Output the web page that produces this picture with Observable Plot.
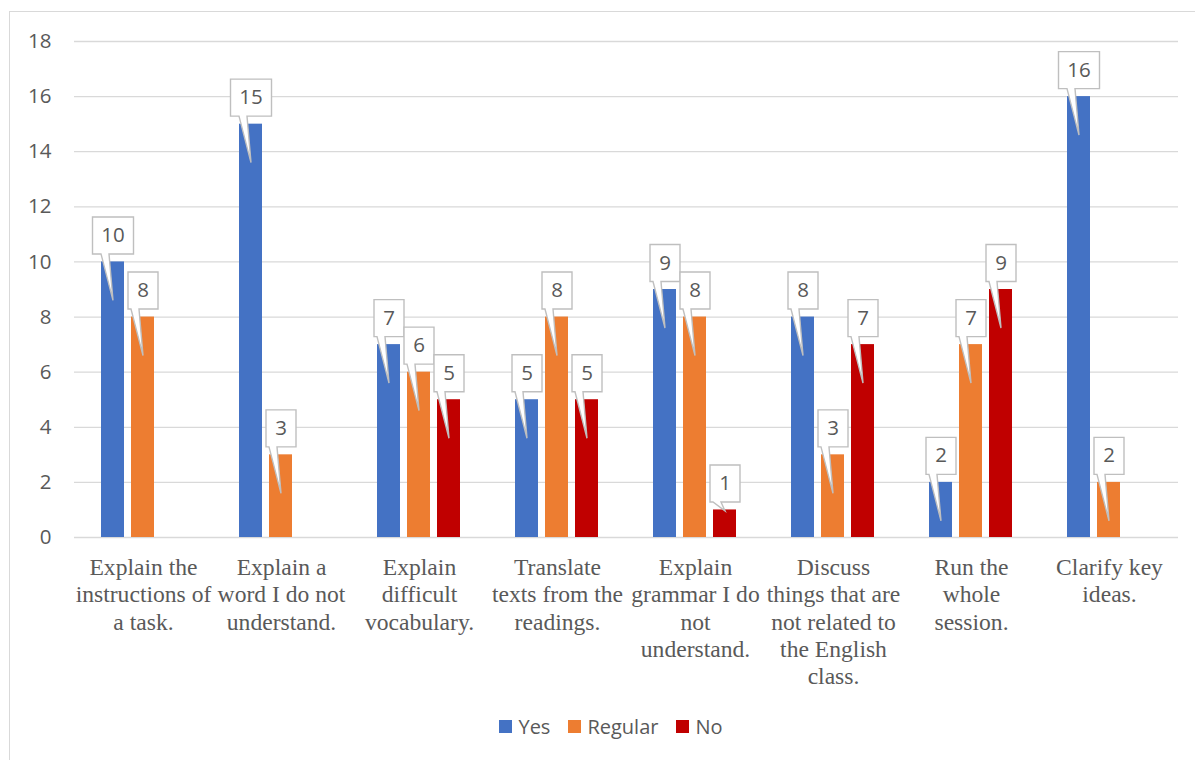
<!DOCTYPE html>
<html>
<head>
<meta charset="utf-8">
<script src="https://cdn.jsdelivr.net/npm/d3@7"></script>
<script src="https://cdn.jsdelivr.net/npm/@observablehq/plot@0.6"></script>
<style>
  html, body { margin: 0; padding: 0; background: #fff; overflow: hidden; }
  #wrap { position: relative; width: 1195px; height: 760px; overflow: hidden; }
  #frame { position: absolute; left: 9px; top: 11px; width: 1400px; height: 1000px;
           border: 1.5px solid #D9D9D9; box-sizing: border-box; }
  #chart { position: absolute; left: 0; top: 0; }
  #legend { position: absolute; left: 0; top: 713px; width: 1222px;
            display: flex; justify-content: center; align-items: center;
            font-family: "Open Sans", sans-serif; font-size: 20px; color: #595959; }
  #legend .item { display: flex; align-items: center; margin: 0 9px; }
  #legend .sw { width: 13px; height: 13px; margin-right: 6px; }
</style>
</head>
<body>
<div id="wrap">
  <div id="frame"></div>
  <div id="chart"></div>
  <div id="legend"></div>
</div>
<script>
// Categories (full wording) and their wrapped axis labels
const categories = [
  "Explain the instructions of a task.",
  "Explain a word I do not understand.",
  "Explain difficult vocabulary.",
  "Translate texts from the readings.",
  "Explain grammar I do not understand.",
  "Discuss things that are not related to the English class.",
  "Run the whole session.",
  "Clarify key ideas."
];
const categoryLabels = [
  "Explain the\ninstructions of\na task.",
  "Explain a\nword I do not\nunderstand.",
  "Explain\ndifficult\nvocabulary.",
  "Translate\ntexts from the\nreadings.",
  "Explain\ngrammar I do\nnot\nunderstand.",
  "Discuss\nthings that are\nnot related to\nthe English\nclass.",
  "Run the\nwhole\nsession.",
  "Clarify key\nideas."
];

const seriesNames = ["Yes", "Regular", "No"];
const seriesColors = ["#4472C4", "#ED7D31", "#C00000"];

// Counts per category for each answer
const yesValues     = [10, 15, 7, 5, 9, 8, 2, 16];
const regularValues = [8, 3, 6, 8, 8, 3, 7, 2];
const noValues      = [0, 0, 5, 5, 1, 7, 9, 0];

const yTicks = [0, 2, 4, 6, 8, 10, 12, 14, 16, 18];

const valueSets = [yesValues, regularValues, noValues];
const rows = [];
categories.forEach((c, i) => {
  seriesNames.forEach((s, j) => {
    rows.push({category: c, series: s, value: valueSets[j][i]});
  });
});
const shown = rows.filter(d => d.value > 0);

// Wedge callout: box above the bar top with a thin pointer toward the bar
function callout(w, tip) {
  return {
    draw(ctx) {
      const l = -w / 2, r = w / 2, t = -45, b = -8;
      ctx.moveTo(l, t);
      ctx.lineTo(r, t);
      ctx.lineTo(r, b);
      ctx.lineTo(-4, b);
      ctx.lineTo(0, tip);
      ctx.lineTo(-12, b);
      ctx.lineTo(l, b);
      ctx.closePath();
    }
  };
}
// short bars get a pointer that stops at the bar top
const isShort = d => d.value < 1.5;
const calloutGroups = [
  {data: shown.filter(d => !isShort(d) && String(d.value).length === 1), symbol: callout(30, 38.5)},
  {data: shown.filter(d => !isShort(d) && String(d.value).length === 2), symbol: callout(41, 38.5)},
  {data: shown.filter(d => isShort(d)), symbol: callout(30, 1)}
];

const calloutStyle = {fill: "white", stroke: "#BFBFBF", strokeWidth: 1.4, r: 5};

const chart = Plot.plot({
  width: 1195,
  height: 700,
  marginTop: 41,
  marginBottom: 163,
  marginLeft: 73,
  marginRight: 17,
  style: {color: "#595959", background: "transparent", overflow: "visible",
          fontFamily: "'Open Sans', sans-serif"},
  fx: {domain: categories, padding: 0, label: null},
  x: {domain: seriesNames, paddingInner: 0.226, paddingOuter: 0.839, axis: null},
  y: {domain: [0, 18], label: null},
  color: {domain: seriesNames, range: seriesColors},
  marks: [
    Plot.gridY(yTicks, {stroke: "#D9D9D9", strokeOpacity: 1, strokeWidth: 1.3}),
    Plot.axisY(yTicks, {tickSize: 0, tickPadding: 23, fontSize: 20.5, label: null,
                        fontFamily: "'Open Sans', sans-serif"}),
    Plot.axisFx({anchor: "bottom", tickSize: 0, tickPadding: 18, label: null,
                 tickFormat: c => categoryLabels[categories.indexOf(c)],
                 fontSize: 23.6, lineHeight: 1.16, lineAnchor: "top",
                 fontFamily: "'Liberation Serif', 'Times New Roman', serif"}),
    Plot.barY(shown, {fx: "category", x: "series", y: "value", fill: "series"}),
    ...calloutGroups.map(g =>
      Plot.dot(g.data, {fx: "category", x: "series", y: "value", symbol: g.symbol, ...calloutStyle})),
    Plot.text(shown, {fx: "category", x: "series", y: "value", text: d => String(d.value),
                      dy: -26.5, fontSize: 20.5, fill: "#595959",
                      fontFamily: "'Open Sans', sans-serif"})
  ]
});
document.getElementById("chart").appendChild(chart);

// Legend below the plot
const legend = document.getElementById("legend");
seriesNames.forEach((s, i) => {
  const item = document.createElement("div");
  item.className = "item";
  const sw = document.createElement("div");
  sw.className = "sw";
  sw.style.background = seriesColors[i];
  const label = document.createElement("span");
  label.textContent = s;
  item.appendChild(sw);
  item.appendChild(label);
  legend.appendChild(item);
});
</script>
</body>
</html>
